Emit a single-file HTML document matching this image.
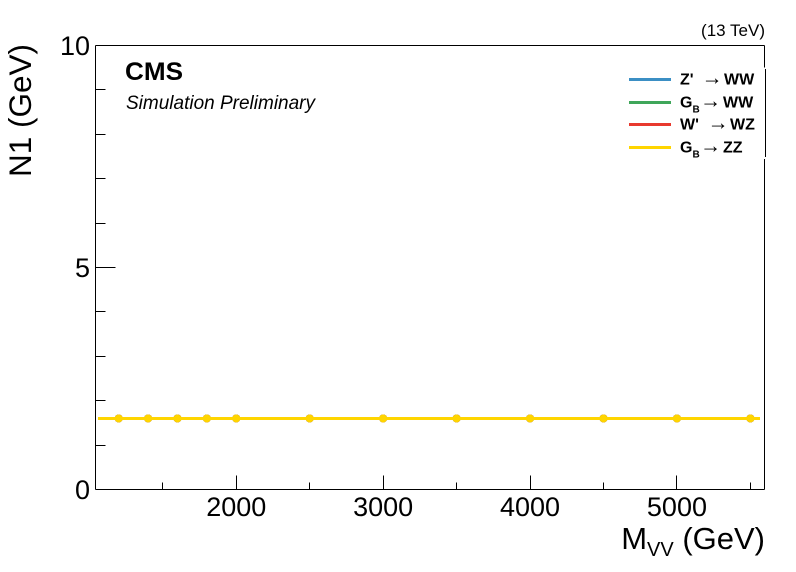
<!DOCTYPE html>
<html lang="en">
<head>
<meta charset="utf-8">
<title>N1 vs MVV</title>
<style>
html,body{margin:0;padding:0;background:#fff;}
svg{display:block;font-family:"Liberation Sans",Arial,sans-serif;}
</style>
</head>
<body>
<svg id="chart" width="796" height="572" viewBox="0 0 796 572" xmlns="http://www.w3.org/2000/svg">
  <rect x="0" y="0" width="796" height="572" fill="#fff"/>
  <g id="series-layer"></g>
  <g id="axis-layer"></g>

  <text x="765" y="36" font-size="17" text-anchor="end" fill="#000">(13 TeV)</text>
  <text x="125" y="80" font-size="25" font-weight="bold" fill="#000" textLength="58" lengthAdjust="spacingAndGlyphs">CMS</text>
  <text x="126" y="109" font-size="19" font-style="italic" fill="#000">Simulation Preliminary</text>

  <text transform="translate(31,177) rotate(-90)" font-size="31.5" fill="#000">N1 (GeV)</text>
  <text x="765" y="549" font-size="31" text-anchor="end" fill="#000">M<tspan font-size="20" dy="7">VV</tspan><tspan dy="-7"> (GeV)</tspan></text>

  <g id="legend" font-weight="bold" font-size="16" fill="#000"></g>
</svg>
<script>
const massPoints = [1200, 1400, 1600, 1800, 2000, 2500, 3000, 3500, 4000, 4500, 5000, 5500];
const fitRange = [1060, 5565];
const zprimeWW = [1.6, 1.6, 1.6, 1.6, 1.6, 1.6, 1.6, 1.6, 1.6, 1.6, 1.6, 1.6];
const bulkWW = [1.6, 1.6, 1.6, 1.6, 1.6, 1.6, 1.6, 1.6, 1.6, 1.6, 1.6, 1.6];
const wprimeWZ = [1.6, 1.6, 1.6, 1.6, 1.6, 1.6, 1.6, 1.6, 1.6, 1.6, 1.6, 1.6];
const bulkZZ = [1.6, 1.6, 1.6, 1.6, 1.6, 1.6, 1.6, 1.6, 1.6, 1.6, 1.6, 1.6];
const xMajorTicks = [2000, 3000, 4000, 5000];
const xMinorTicks = [1500, 2500, 3500, 4500, 5500];
const yMajorTicks = [0, 5, 10];
const yMinorTicks = [1, 2, 3, 4, 6, 7, 8, 9];

const NS = 'http://www.w3.org/2000/svg';
const frame = { left: 95.5, right: 764.5, top: 45.5, bottom: 489.5 };
const xDomain = [1042, 5596];
const yDomain = [0, 10];

function xScale(v) {
  return frame.left + (v - xDomain[0]) / (xDomain[1] - xDomain[0]) * (frame.right - frame.left);
}
function yScale(v) {
  return frame.bottom - (v - yDomain[0]) / (yDomain[1] - yDomain[0]) * (frame.bottom - frame.top);
}
function make(tag, attrs, parent) {
  const el = document.createElementNS(NS, tag);
  for (const k in attrs) el.setAttribute(k, attrs[k]);
  parent.appendChild(el);
  return el;
}

const axisLayer = document.getElementById('axis-layer');
const seriesLayer = document.getElementById('series-layer');
const legend = document.getElementById('legend');
const axisStyle = { stroke: '#000', 'stroke-width': 1, fill: 'none', 'shape-rendering': 'crispEdges' };

/* plot frame; the right edge is interrupted by the legend box */
const frameSegments = [
  [frame.left, frame.top, frame.right, frame.top],
  [frame.left, frame.top, frame.left, frame.bottom],
  [frame.left, frame.bottom, frame.right, frame.bottom],
  [frame.right, frame.top, frame.right, 67.5],
  [frame.right + 1, 69, frame.right + 1, 157],
  [frame.right, 159, frame.right, frame.bottom]
];
frameSegments.forEach(function (s) {
  const seg = make('line', Object.assign({ x1: s[0], y1: s[1], x2: s[2], y2: s[3] }, axisStyle), axisLayer);
  
  
});

/* x axis */
xMajorTicks.forEach(function (v) {
  const px = Math.round(xScale(v) - 0.5) + 0.5;
  const t = make('line', Object.assign({ x1: px, y1: frame.bottom, x2: px, y2: frame.bottom - 14 }, axisStyle), axisLayer);
  
  
  const l = make('text', { x: xScale(v), y: 516, 'font-size': 27, 'text-anchor': 'middle', fill: '#000' }, axisLayer);
  
  
  l.textContent = String(v);
});
xMinorTicks.forEach(function (v) {
  const px = Math.round(xScale(v) - 0.5) + 0.5;
  const t = make('line', Object.assign({ x1: px, y1: frame.bottom, x2: px, y2: frame.bottom - 7 }, axisStyle), axisLayer);
  
  
});

/* y axis */
yMajorTicks.forEach(function (v) {
  const py = Math.round(yScale(v) - 0.5) + 0.5;
  const t = make('line', Object.assign({ x1: frame.left, y1: py, x2: frame.left + 20, y2: py }, axisStyle), axisLayer);
  
  
  const l = make('text', { x: 90, y: yScale(v) + 9.5, 'font-size': 27, 'text-anchor': 'end', fill: '#000' }, axisLayer);
  
  
  l.textContent = String(v);
});
yMinorTicks.forEach(function (v) {
  const py = Math.round(yScale(v) - 0.5) + 0.5;
  const t = make('line', Object.assign({ x1: frame.left, y1: py, x2: frame.left + 10, y2: py }, axisStyle), axisLayer);
  
  
});

/* series, last one drawn on top */
const seriesNames = ['zprime-ww', 'bulk-ww', 'wprime-wz', 'bulk-zz'];
const seriesColors = ['#3b8fc4', '#3fa65a', '#e8392e', '#ffd500'];
const seriesValues = [zprimeWW, bulkWW, wprimeWZ, bulkZZ];

seriesValues.forEach(function (values, i) {
  const g = make('g', {}, seriesLayer);
  
  
  const first = values[0];
  const last = values[values.length - 1];
  const pts = [[fitRange[0], first]];
  massPoints.forEach(function (m, j) { pts.push([m, values[j]]); });
  pts.push([fitRange[1], last]);
  const line = make('polyline', {
    points: pts.map(function (p) { return xScale(p[0]).toFixed(2) + ',' + yScale(p[1]).toFixed(2); }).join(' '),
    fill: 'none', stroke: seriesColors[i], 'stroke-width': 3, 'shape-rendering': 'crispEdges'
  }, g);
  
  
  massPoints.forEach(function (m, j) {
    const c = make('circle', { cx: xScale(m), cy: yScale(values[j]), r: 4, fill: seriesColors[i] }, g);
    
    
  });
});

/* legend */
const legendRows = [
  { y: 79.5, main: "Z'", sub: '', arrowX: 701.5, target: 'WW', targetX: 724 },
  { y: 102.5, main: 'G', sub: 'B', arrowX: 700, target: 'WW', targetX: 723 },
  { y: 124.5, main: "W'", sub: '', arrowX: 707.5, target: 'WZ', targetX: 730 },
  { y: 147.5, main: 'G', sub: 'B', arrowX: 700, target: 'ZZ', targetX: 723 }
];
legendRows.forEach(function (r, i) {
  const row = make('g', {}, legend);
  
  
  const swatch = make('line', { x1: 629, y1: r.y, x2: 671, y2: r.y, stroke: seriesColors[i], 'stroke-width': 3, 'shape-rendering': 'crispEdges' }, row);
  
  
  const label = make('text', { x: 680, y: r.y + 5 }, row);
  
  
  label.textContent = r.main;
  if (r.sub) {
    const sub = make('tspan', { 'font-size': 10, dy: 5 }, label);
    sub.textContent = r.sub;
  }
  const arrow = make('text', { x: r.arrowX, y: r.y + 5, 'font-weight': 'normal', 'font-family': '"Liberation Serif",serif', 'font-size': 21 }, row);
  
  
  arrow.textContent = '\u2192';
  const target = make('text', { x: r.targetX, y: r.y + 5 }, row);
  
  
  target.textContent = r.target;
});
</script>
</body>
</html>
